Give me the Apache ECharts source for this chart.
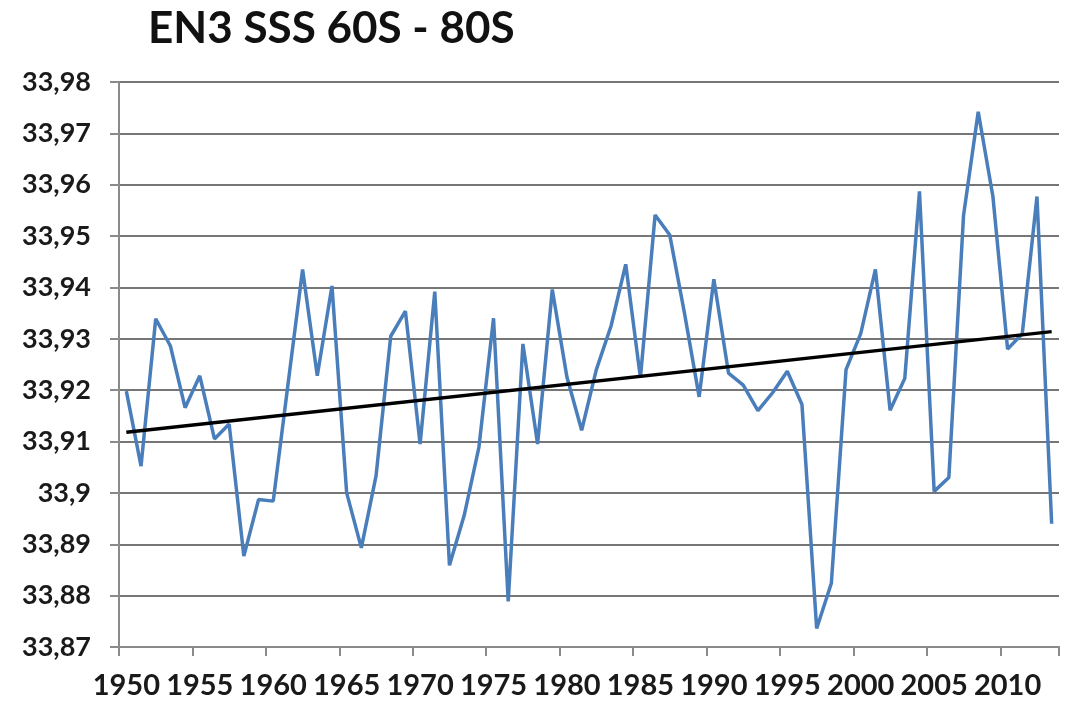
<!DOCTYPE html>
<html>
<head>
<meta charset="utf-8">
<script src="https://cdn.jsdelivr.net/npm/echarts@6/dist/echarts.min.js"></script>
<style>
  html, body { margin: 0; padding: 0; background: #ffffff; }
  #chart { width: 1074px; height: 704px; }
</style>
</head>
<body>
<div id="chart"></div>
<script>
const titleText = 'EN3 SSS 60S - 80S';

const years = [
  1950, 1951, 1952, 1953, 1954, 1955, 1956, 1957, 1958, 1959,
  1960, 1961, 1962, 1963, 1964, 1965, 1966, 1967, 1968, 1969,
  1970, 1971, 1972, 1973, 1974, 1975, 1976, 1977, 1978, 1979,
  1980, 1981, 1982, 1983, 1984, 1985, 1986, 1987, 1988, 1989,
  1990, 1991, 1992, 1993, 1994, 1995, 1996, 1997, 1998, 1999,
  2000, 2001, 2002, 2003, 2004, 2005, 2006, 2007, 2008, 2009,
  2010, 2011, 2012, 2013
];

const sss = [
  33.9198, 33.9052, 33.9339, 33.9286, 33.9166, 33.9228, 33.9105, 33.9134, 33.8877, 33.8987,
  33.8984, 33.9210, 33.9435, 33.9228, 33.9403, 33.9000, 33.8893, 33.9033, 33.9305, 33.9354,
  33.9095, 33.9392, 33.8859, 33.8956, 33.9088, 33.9340, 33.8789, 33.9290, 33.9095, 33.9396,
  33.9225, 33.9122, 33.9240, 33.9325, 33.9445, 33.9224, 33.9541, 33.9502, 33.9350, 33.9187,
  33.9416, 33.9233, 33.9210, 33.9160, 33.9195, 33.9237, 33.9172, 33.8736, 33.8824, 33.9240,
  33.9310, 33.9435, 33.9161, 33.9223, 33.9587, 33.9003, 33.9030, 33.9540, 33.9742, 33.9577,
  33.9280, 33.9310, 33.9577, 33.8940
];

// Trend line end points
const trendYears = [1950, 2013];
const trendValues = [33.9118, 33.9314];

const yMin = 33.87, yMax = 33.98, yStep = 0.01;

const categories = years.map(String);
const trendData = trendYears.map((y, i) => [String(y), trendValues[i]]);

const chart = echarts.init(document.getElementById('chart'), null, { renderer: 'canvas' });

const fontFamily = 'Lato, "Open Sans", sans-serif';

chart.setOption({
  backgroundColor: '#ffffff',
  animation: false,
  title: {
    text: titleText,
    left: 143,
    top: 2,
    textStyle: { fontFamily, fontWeight: 'bold', fontSize: 44, color: '#111111' }
  },
  grid: { left: 119, right: 15, top: 82, bottom: 57, containLabel: false },
  xAxis: {
    type: 'category',
    data: categories,
    boundaryGap: true,
    axisLine: { show: true, lineStyle: { color: '#8a8a8a', width: 2 } },
    axisTick: { show: true, interval: 4, length: 9, alignWithLabel: false, lineStyle: { color: '#8a8a8a', width: 2 } },
    axisLabel: {
      interval: 4, margin: 24,
      fontFamily, fontWeight: 'bold', fontSize: 29, color: '#1a1a1a'
    },
    splitLine: { show: false }
  },
  yAxis: {
    type: 'value',
    min: yMin, max: yMax, interval: yStep,
    axisLine: { show: true, lineStyle: { color: '#8a8a8a', width: 2 } },
    axisTick: { show: true, length: 9, lineStyle: { color: '#8a8a8a', width: 2 } },
    axisLabel: {
      margin: 28,
      fontFamily, fontWeight: 'bold', fontSize: 27, color: '#1a1a1a',
      formatter: v => String(parseFloat(v.toFixed(2))).replace('.', ',')
    },
    splitLine: { show: true, lineStyle: { color: '#767676', width: 2 } }
  },
  series: [
    {
      type: 'line',
      data: sss,
      symbol: 'none',
      lineStyle: { color: '#4a7ebb', width: 3.5 },
      z: 3
    },
    {
      type: 'line',
      data: trendData,
      symbol: 'none',
      lineStyle: { color: '#000000', width: 3.5 },
      z: 4
    }
  ]
});
</script>
</body>
</html>
